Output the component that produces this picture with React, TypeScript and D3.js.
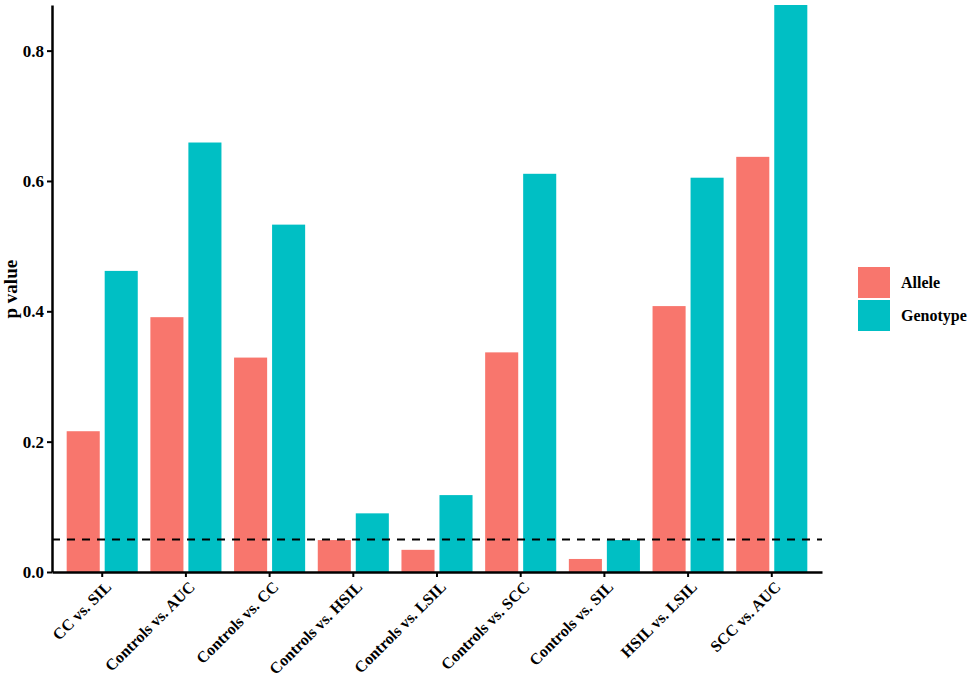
import React, { useRef, useEffect } from 'react';
import { select, scaleBand, scaleLinear, axisLeft, axisBottom, format } from 'd3';

const categories = [
  'CC vs. SIL',
  'Controls vs. AUC',
  'Controls vs. CC',
  'Controls vs. HSIL',
  'Controls vs. LSIL',
  'Controls vs. SCC',
  'Controls vs. SIL',
  'HSIL vs. LSIL',
  'SCC vs. AUC',
];
const series = ['Allele', 'Genotype'];
const alleleValues = [0.216, 0.391, 0.329, 0.049, 0.034, 0.337, 0.020, 0.408, 0.637];
const genotypeValues = [0.462, 0.659, 0.533, 0.090, 0.118, 0.611, 0.049, 0.605, 0.870];
const yTicks = [0, 0.2, 0.4, 0.6, 0.8];
const threshold = 0.05;
const colors = ['#F8766D', '#00BFC4'];

const W = 969;
const H = 678;
const FONT = "'Liberation Serif', 'Times New Roman', 'DejaVu Serif', serif";

const App: React.FC = () => {
  const svgRef = useRef<SVGSVGElement | null>(null);

  useEffect(() => {
    if (!svgRef.current) return;
    const svg = select(svgRef.current);
    svg.selectAll('*').remove();

    const margin = { top: 5, right: 147, bottom: 106, left: 52 };
    const innerWidth = W - margin.left - margin.right;
    const innerHeight = H - margin.top - margin.bottom;

    const g = svg.append('g').attr('transform', `translate(${margin.left}, ${margin.top})`);

    const x = scaleBand<string>()
      .domain(categories)
      .range([0, innerWidth])
      .paddingInner(0.1)
      .paddingOuter(0.15);

    const xInner = scaleBand<string>()
      .domain(series)
      .range([0, x.bandwidth()])
      .paddingInner(0.13)
      .paddingOuter(0.056);

    const y = scaleLinear()
      .domain([0, Math.max(...genotypeValues, ...alleleValues)])
      .range([innerHeight, 0]);

    const rows = categories.map((c, i) => ({ c, values: [alleleValues[i], genotypeValues[i]] }));

    const groups = g.selectAll('.grp')
      .data(rows)
      .enter()
      .append('g')
      .attr('transform', d => `translate(${x(d.c)}, 0)`);

    groups.selectAll('rect')
      .data(d => d.values.map((v, j) => ({ s: series[j], v, j })))
      .enter()
      .append('rect')
      .attr('x', d => xInner(d.s)!)
      .attr('y', d => y(d.v))
      .attr('width', xInner.bandwidth())
      .attr('height', d => innerHeight - y(d.v))
      .attr('fill', d => colors[d.j]);

    // threshold line
    g.append('line')
      .attr('x1', 0)
      .attr('x2', innerWidth)
      .attr('y1', y(threshold))
      .attr('y2', y(threshold))
      .attr('stroke', '#000')
      .attr('stroke-width', 2)
      .attr('stroke-dasharray', '8,7');

    const yAxis = g.append('g')
      .call(axisLeft(y).tickValues(yTicks).tickFormat(format('.1f')).tickSize(5).tickSizeOuter(0));
    yAxis.select('.domain').attr('stroke-width', 2.5);
    yAxis.selectAll('.tick line').attr('stroke-width', 2);
    yAxis.selectAll('text')
      .style('font-family', FONT)
      .style('font-weight', 'bold')
      .style('font-size', '17px')
      .attr('fill', '#000')
      .attr('x', -8);

    const xAxis = g.append('g')
      .attr('transform', `translate(0, ${innerHeight})`)
      .call(axisBottom(x).tickSize(5).tickSizeOuter(0));
    xAxis.select('.domain').attr('stroke-width', 2.5);
    xAxis.selectAll('.tick line').attr('stroke-width', 2);
    xAxis.selectAll('text')
      .style('font-family', FONT)
      .style('font-weight', 'bold')
      .style('font-size', '16px')
      .attr('fill', '#000')
      .attr('text-anchor', 'end')
      .attr('y', 0)
      .attr('dy', '0')
      .attr('transform', 'translate(10, 16) rotate(-45)');

    svg.append('text')
      .attr('transform', `translate(17, ${margin.top + y(0.434)}) rotate(-90)`)
      .attr('text-anchor', 'middle')
      .style('font-family', FONT)
      .style('font-weight', 'bold')
      .style('font-size', '19px')
      .text('p value');

    const legend = svg.append('g').attr('transform', 'translate(858, 267)');
    series.forEach((s, i) => {
      legend.append('rect')
        .attr('x', 0)
        .attr('y', i * 33)
        .attr('width', 32)
        .attr('height', 31)
        .attr('fill', colors[i]);
      legend.append('text')
        .attr('x', 43)
        .attr('y', i * 33 + 21)
        .style('font-family', FONT)
        .style('font-weight', 'bold')
        .style('font-size', '16px')
        .text(s);
    });
  }, []);

  return (
    <div style={{ position: 'absolute', left: 0, top: 0 }}>
      <svg ref={svgRef} width={W} height={H} style={{ display: 'block', background: '#fff' }}></svg>
    </div>
  );
};

export default App;
